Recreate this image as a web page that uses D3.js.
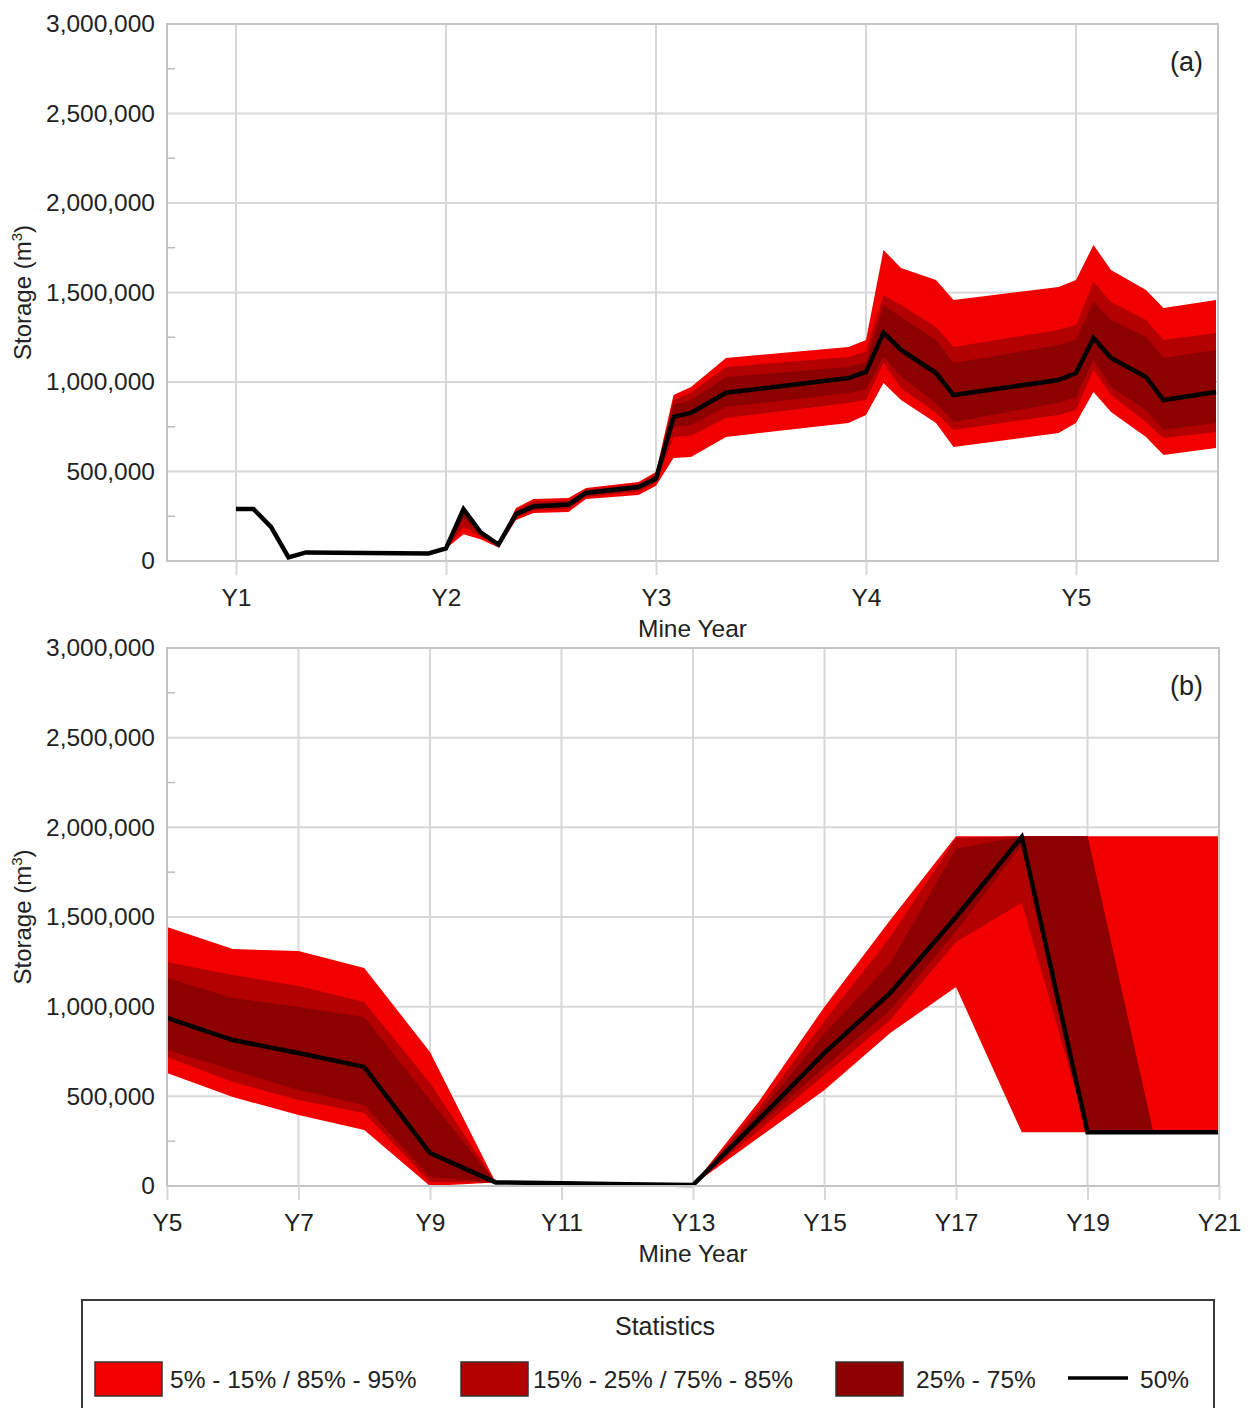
<!DOCTYPE html>
<html>
<head>
<meta charset="utf-8">
<script src="https://cdn.jsdelivr.net/npm/d3@7"></script>
<style>
  html, body { margin: 0; padding: 0; background: #fff; }
  svg text { font-family: "Liberation Sans", Arial, sans-serif; fill: #222; }
</style>
</head>
<body>
<script>
// ---------- Panel (a): monthly storage percentiles, Y1 to Y5+8 months ----------
// time is expressed in months after the start of Y1
const monthsA = [0, 1, 2, 3, 4, 11, 12, 13, 14, 15, 16, 17, 19, 20, 23, 24, 25, 26, 28, 35, 36, 37, 38, 40, 41, 47, 48, 49, 50, 52, 53, 56];
const p50A = [290000, 290000, 190000, 20000, 48000, 42000, 70000, 290000, 158000, 92000, 262000, 305000, 315000, 380000, 413000, 460000, 805000, 827000, 940000, 1022000, 1056000, 1276000, 1179000, 1050000, 927000, 1011000, 1050000, 1246000, 1134000, 1028000, 899000, 944000];
const p95A = [290000, 290000, 190000, 20000, 48000, 42000, 70000, 300000, 170000, 100000, 296000, 346000, 352000, 408000, 441000, 497000, 927000, 972000, 1134000, 1196000, 1235000, 1738000, 1637000, 1570000, 1458000, 1531000, 1570000, 1766000, 1626000, 1514000, 1413000, 1458000];
const p85A = [290000, 290000, 190000, 20000, 48000, 42000, 70000, 297000, 165000, 97000, 285000, 332000, 338000, 398000, 431000, 485000, 900000, 940000, 1084000, 1140000, 1170000, 1486000, 1430000, 1307000, 1196000, 1291000, 1319000, 1559000, 1447000, 1346000, 1235000, 1274000];
const p75A = [290000, 290000, 190000, 20000, 48000, 42000, 70000, 293000, 162000, 95000, 275000, 320000, 328000, 390000, 423000, 475000, 871000, 900000, 1028000, 1084000, 1110000, 1430000, 1363000, 1235000, 1106000, 1207000, 1235000, 1447000, 1346000, 1252000, 1134000, 1179000];
const p25A = [290000, 290000, 190000, 20000, 48000, 42000, 70000, 240000, 148000, 88000, 250000, 292000, 302000, 368000, 400000, 445000, 749000, 760000, 860000, 939000, 960000, 1141000, 1028000, 883000, 777000, 883000, 916000, 1123000, 972000, 844000, 732000, 771000];
const p15A = [290000, 290000, 190000, 20000, 48000, 42000, 70000, 190000, 135000, 82000, 240000, 282000, 290000, 358000, 388000, 435000, 693000, 700000, 799000, 883000, 900000, 1106000, 966000, 827000, 732000, 816000, 844000, 1067000, 927000, 777000, 687000, 721000];
const p5A  = [290000, 290000, 190000, 20000, 48000, 42000, 70000, 150000, 120000, 75000, 229000, 268000, 274000, 346000, 369000, 420000, 575000, 581000, 693000, 771000, 816000, 994000, 899000, 771000, 637000, 715000, 771000, 944000, 832000, 693000, 592000, 631000];

// ---------- Panel (b): annual storage percentiles, Y5 to Y21 ----------
const yearsB = [5, 6, 7, 8, 9, 10, 11, 12, 13, 14, 15, 16, 17, 18, 19, 20, 21];
const p50B = [937000, 814000, 742000, 664000, 184000, 20000, 15000, 10000, 5000, 370000, 742000, 1076000, 1500000, 1946000, 300000, 300000, 300000];
const p95B = [1444000, 1321000, 1310000, 1216000, 747000, 20000, 15000, 10000, 5000, 470000, 1000000, 1483000, 1950000, 1950000, 1950000, 1950000, 1950000];
const p85B = [1249000, 1177000, 1115000, 1026000, 574000, 20000, 15000, 10000, 5000, 435000, 920000, 1388000, 1940000, 1950000, 1950000, 300000, 300000];
const p75B = [1160000, 1048000, 998000, 942000, 480000, 20000, 15000, 10000, 5000, 405000, 850000, 1243000, 1880000, 1950000, 1950000, 300000, 300000];
const p25B = [758000, 647000, 535000, 452000, 50000, 20000, 15000, 10000, 5000, 340000, 664000, 981000, 1420000, 1900000, 300000, 300000, 300000];
const p15B = [719000, 580000, 480000, 407000, 22000, 20000, 15000, 10000, 5000, 310000, 620000, 926000, 1360000, 1580000, 300000, 300000, 300000];
const p5B  = [630000, 496000, 396000, 312000, 0, 20000, 15000, 10000, 5000, 270000, 535000, 853000, 1110000, 300000, 300000, 300000, 300000];

// ---------- Axis ticks and labels ----------
const storageTicks = [0, 500000, 1000000, 1500000, 2000000, 2500000, 3000000];
const storageMinorTicks = [250000, 750000, 1250000, 1750000, 2250000, 2750000];
const yearTicksA = [1, 2, 3, 4, 5];
const yearTicksB = [5, 7, 9, 11, 13, 15, 17, 19, 21];
const panelLabels = ["(a)", "(b)"];
const xTitle = "Mine Year";
const legendTitle = "Statistics";
const legendLabels = ["5% - 15% / 85% - 95%", "15% - 25% / 75% - 85%", "25% - 75%", "50%"];

const bandColors = ["#f20000", "#b30000", "#8c0000"];
const gridColor = "#d8d8d8";
const frameColor = "#c4c4c4";
const FONT = "'Liberation Sans', Arial, sans-serif";

const W = 1250, H = 1408;
const svg = d3.select("body").append("svg").attr("width", W).attr("height", H);

function rows(t, p5, p15, p25, p50, p75, p85, p95) {
  return t.map((v, i) => ({ t: v, p5: p5[i], p15: p15[i], p25: p25[i], p50: p50[i], p75: p75[i], p85: p85[i], p95: p95[i] }));
}

function drawPanel(opts) {
  const { left, right, top, bottom, xDomain, xTicks, data, label } = opts;
  const x = d3.scaleLinear().domain(xDomain).range([left, right]);
  const y = d3.scaleLinear().domain([0, 3000000]).range([bottom, top]);
  const g = svg.append("g");

  // horizontal grid
  g.append("g").selectAll("line").data(storageTicks).join("line")
    .attr("x1", left).attr("x2", right)
    .attr("y1", d => y(d)).attr("y2", d => y(d))
    .attr("stroke", gridColor).attr("stroke-width", 2);

  // vertical grid
  g.append("g").selectAll("line").data(xTicks).join("line")
    .attr("x1", d => x(d)).attr("x2", d => x(d))
    .attr("y1", top).attr("y2", bottom)
    .attr("stroke", gridColor).attr("stroke-width", 2);

  // minor ticks on the storage axis
  g.append("g").selectAll("line").data(storageMinorTicks).join("line")
    .attr("x1", left).attr("x2", left + 8)
    .attr("y1", d => y(d)).attr("y2", d => y(d))
    .attr("stroke", "#bdbdbd").attr("stroke-width", 1.5);

  // percentile bands
  const pairs = [["p5", "p95"], ["p15", "p85"], ["p25", "p75"]];
  pairs.forEach(([lo, hi], i) => {
    const area = d3.area().x(d => x(d.t)).y0(d => y(d[lo])).y1(d => y(d[hi]));
    g.append("path").datum(data).attr("d", area).attr("fill", bandColors[i]);
  });

  // median line
  const line = d3.line().x(d => x(d.t)).y(d => y(d.p50));
  g.append("path").datum(data).attr("d", line)
    .attr("fill", "none").attr("stroke", "#000").attr("stroke-width", 4.5)
    .attr("stroke-linejoin", "miter");

  // frame
  g.append("rect").attr("x", left).attr("y", top)
    .attr("width", right - left).attr("height", bottom - top)
    .attr("fill", "none").attr("stroke", frameColor).attr("stroke-width", 2);

  // storage axis
  const yAxis = g.append("g").attr("transform", `translate(${left},0)`)
    .call(d3.axisLeft(y).tickValues(storageTicks).tickFormat(d3.format(",")).tickSize(0).tickPadding(12));
  yAxis.select(".domain").remove();
  yAxis.selectAll("text").attr("font-size", 24.5).style("font-family", FONT).attr("fill", "#222");

  // year axis
  const xAxis = g.append("g").attr("transform", `translate(0,${bottom})`)
    .call(d3.axisBottom(x).tickValues(xTicks).tickFormat(d => "Y" + d).tickSize(14).tickPadding(14));
  xAxis.select(".domain").remove();
  xAxis.selectAll("line").attr("stroke", gridColor).attr("stroke-width", 2);
  xAxis.selectAll("text").attr("font-size", 24.5).style("font-family", FONT).attr("fill", "#222");

  // axis titles
  g.append("text").attr("x", (left + right) / 2).attr("y", bottom + 76)
    .attr("text-anchor", "middle").attr("font-size", 24.5).text(xTitle);

  const yt = g.append("text")
    .attr("transform", `translate(31,${(top + bottom) / 2}) rotate(-90)`)
    .attr("text-anchor", "middle").attr("font-size", 24);
  yt.append("tspan").text("Storage (m");
  yt.append("tspan").attr("font-size", 15).attr("dy", -9).text("3");
  yt.append("tspan").attr("dy", 9).text(")");

  // panel label
  g.append("text").attr("x", 1203).attr("y", top + 47)
    .attr("text-anchor", "end").attr("font-size", 27).text(label);
}

drawPanel({
  left: 167, right: 1218, top: 24, bottom: 561,
  xDomain: [1 - 69 / 210, 5 + 142 / 210],
  xTicks: yearTicksA,
  data: rows(monthsA.map(m => 1 + m / 12), p5A, p15A, p25A, p50A, p75A, p85A, p95A),
  label: panelLabels[0]
});

drawPanel({
  left: 167, right: 1219, top: 648, bottom: 1186,
  xDomain: [5, 21],
  xTicks: yearTicksB,
  data: rows(yearsB, p5B, p15B, p25B, p50B, p75B, p85B, p95B),
  label: panelLabels[1]
});

// ---------- Legend ----------
const lg = svg.append("g");
lg.append("rect").attr("x", 82).attr("y", 1300).attr("width", 1132).attr("height", 130)
  .attr("fill", "#fff").attr("stroke", "#3a3a3a").attr("stroke-width", 2);
lg.append("text").attr("x", 665).attr("y", 1335).attr("text-anchor", "middle")
  .attr("font-size", 25).text(legendTitle);

const swatchX = [95, 461, 836];
const textX = [170, 533, 916];
swatchX.forEach((sx, i) => {
  lg.append("rect").attr("x", sx).attr("y", 1362).attr("width", 67).attr("height", 34)
    .attr("fill", bandColors[i]).attr("stroke", "#333").attr("stroke-width", 1.5);
  lg.append("text").attr("x", textX[i]).attr("y", 1388).attr("font-size", 24.5).text(legendLabels[i]);
});
lg.append("line").attr("x1", 1068).attr("x2", 1128).attr("y1", 1378).attr("y2", 1378)
  .attr("stroke", "#000").attr("stroke-width", 3.5);
lg.append("text").attr("x", 1140).attr("y", 1388).attr("font-size", 24.5).text(legendLabels[3]);
</script>
</body>
</html>
